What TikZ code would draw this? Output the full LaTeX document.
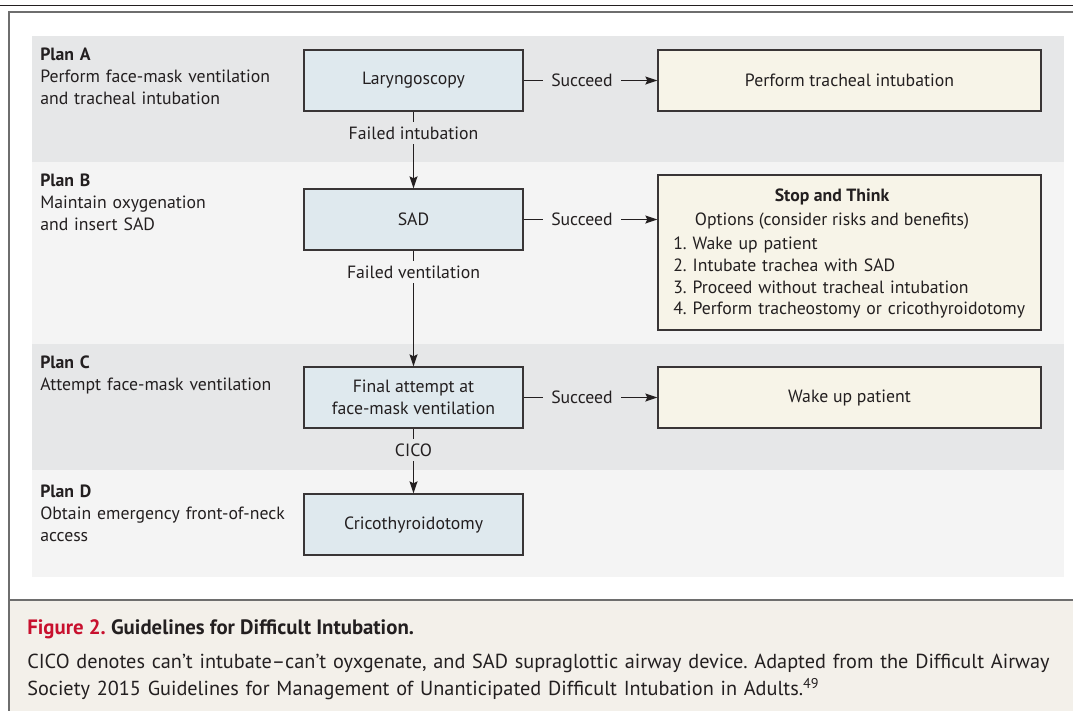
\documentclass[tikz,border=0pt]{standalone}
\usepackage{fontspec}
\setmainfont{PT Sans}
\usetikzlibrary{arrows.meta}
\definecolor{bandA}{HTML}{E6E7E8}
\definecolor{bandB}{HTML}{F4F4F4}
\definecolor{bluefill}{HTML}{DFE9EE}
\definecolor{creamfill}{HTML}{F7F4E8}
\definecolor{capbg}{HTML}{F3F0EA}
\definecolor{figred}{HTML}{C8102E}
\definecolor{ink}{HTML}{231F20}
\definecolor{framegray}{HTML}{6E6E6E}
\frenchspacing
\begin{document}
\begin{tikzpicture}[x=0.75pt,y=-0.75pt,
  every node/.style={text=ink, font=\fontsize{13.3pt}{16.5pt}\selectfont},
  bluebox/.style={draw=ink!90, line width=1pt, fill=bluefill, minimum width=164.25pt, minimum height=45.75pt, inner sep=0pt, align=center},
  creambox/.style={draw=ink!90, line width=1pt, fill=creamfill, minimum width=287.25pt, minimum height=45.75pt, inner sep=0pt, align=center},
  lbl/.style={inner xsep=6pt, inner ysep=3.5pt},
  conn/.style={draw=ink, line width=0.9pt},
  arr/.style={conn, -{Stealth[length=9pt,width=6pt,inset=1.5pt]}},
  plan/.style={anchor=north west, inner sep=0pt, text width=210pt, align=left}
]
\useasboundingbox (0,0) rectangle (1073,711);
\fill[white] (0,0) rectangle (1073,711);
% bands
\fill[bandA] (32,36) rectangle (1064,162);
\fill[bandB] (32,162) rectangle (1064,344);
\fill[bandA] (32,344) rectangle (1064,470);
\fill[bandB] (32,470) rectangle (1064,577);
% caption background and frame
\fill[capbg] (9,600) rectangle (1073,711);
\draw[ink, line width=0.8pt] (0,5.5) -- (1073,5.5);
\draw[framegray, line width=1.6pt] (9,12) -- (1073,12);
\draw[framegray, line width=1.6pt] (9,11.4) -- (9,711);
\draw[framegray, line width=1.6pt] (9,600) -- (1073,600);

% plan texts
\node[plan] (pA) at (40,48) {\textbf{Plan A}\\Perform face-mask ventilation\\and tracheal intubation};
\node[plan] (pB) at (40,173.5) {\textbf{Plan B}\\Maintain oxygenation\\and insert SAD};
\node[plan] (pC) at (40,355.5) {\textbf{Plan C}\\Attempt face-mask ventilation};
\node[plan] (pD) at (40,484.5) {\textbf{Plan D}\\Obtain emergency front-of-neck\\access};

% boxes
\node[bluebox] (lary) at (413.5,80.5) {Laryngoscopy};
\node[bluebox] (sad) at (413.5,219.5) {SAD};
\node[bluebox] (final) at (413.5,397.5) {Final attempt at\\face-mask ventilation};
\node[bluebox] (crico) at (413.5,524.5) {Cricothyroidotomy};
\node[creambox] (trach) at (849.5,80.5) {Perform tracheal intubation};
\node[creambox, minimum height=116.25pt] (stop) at (849.5,252.5) {};
\node[creambox] (wake) at (849.5,397.5) {Wake up patient};

% stop and think contents
\node[inner sep=0pt, anchor=base, font=\fontsize{13.3pt}{16.5pt}\selectfont\bfseries] (stopT) at (832,201) {Stop and Think};
\node[inner sep=0pt, anchor=base] (stopO) at (832,225) {Options (consider risks and benefits)};
\node[inner sep=0pt, anchor=north west, text width=280pt, align=left, font=\fontsize{13.3pt}{16.2pt}\selectfont] (stopL) at (673,237) {1. Wake up patient\\2. Intubate trachea with SAD\\3. Proceed without tracheal intubation\\4. Perform tracheostomy or cricothyroidotomy};

% horizontal connectors
\node[lbl] (s1) at (582,80.5) {Succeed};
\draw[conn] (lary.east) -- (s1.west);
\draw[arr] (s1.east) -- (trach.west);
\node[lbl] (s2) at (582,219.5) {Succeed};
\draw[conn] (sad.east) -- (s2.west);
\draw[arr] (s2.east) -- (stop.west |- s2.east);
\node[lbl] (s3) at (582,397.5) {Succeed};
\draw[conn] (final.east) -- (s3.west);
\draw[arr] (s3.east) -- (wake.west);

% vertical connectors
\node[lbl] (f1) at (413.5,133) {Failed intubation};
\draw[conn] (lary.south) -- (f1.north);
\draw[arr] (f1.south) -- (sad.north);
\node[lbl] (f2) at (413.5,272) {Failed ventilation};
\draw[conn] (sad.south) -- (f2.north);
\draw[arr] (f2.south) -- (final.north);
\node[lbl] (f3) at (413.5,450) {CICO};
\draw[conn] (final.south) -- (f3.north);
\draw[arr] (f3.south) -- (crico.north);

% caption
\node[anchor=base west, inner sep=0pt, font=\fontsize{15.6pt}{19.5pt}\selectfont\bfseries] (capT) at (27,634) {\textcolor{figred}{Figure 2.} Guidelines for Difficult Intubation.};
\node[anchor=north west, inner sep=0pt, text width=800pt, align=left, font=\fontsize{15.2pt}{19.8pt}\selectfont] (capB) at (27,654) {CICO denotes can’t intubate–can’t oyxgenate, and SAD supraglottic airway device. Adapted from the Difficult Airway\\Society 2015 Guidelines for Management of Unanticipated Difficult Intubation in Adults.\textsuperscript{49}};
\end{tikzpicture}
\end{document}
